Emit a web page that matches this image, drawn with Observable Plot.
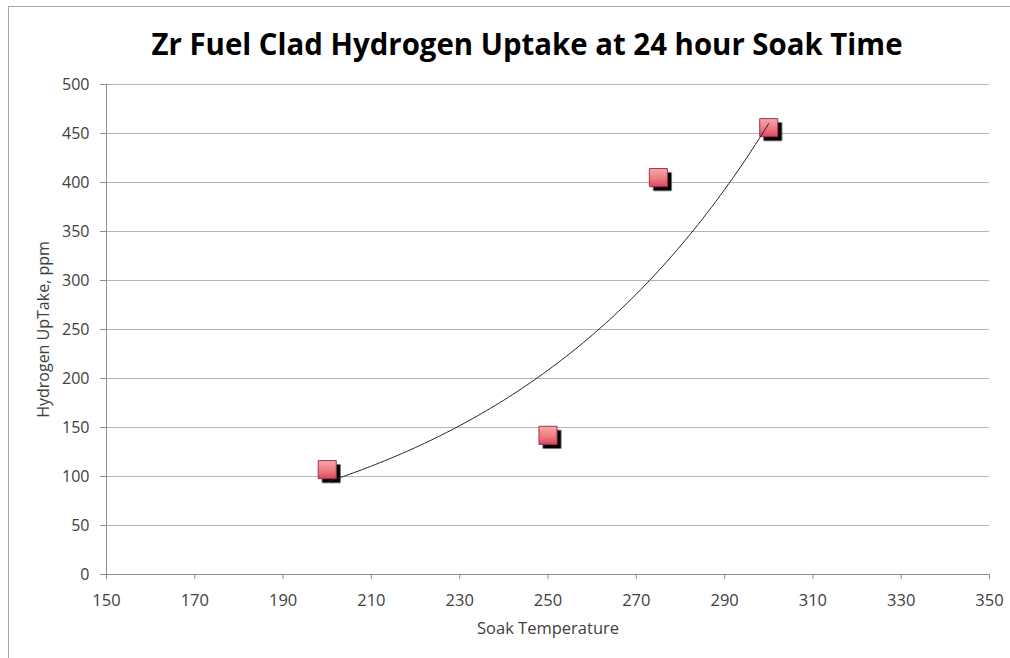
<!DOCTYPE html>
<html><head><meta charset="utf-8">
<script src="https://cdn.jsdelivr.net/npm/d3@7"></script>
<script src="https://cdn.jsdelivr.net/npm/@observablehq/plot@0.6"></script>
<style>
html,body{margin:0;padding:0;background:#fff;overflow:hidden;width:1010px;height:658px;position:relative}
#frame{position:absolute;left:8px;top:6px;width:1100px;height:800px;border:1px solid #a6a6a6;box-sizing:border-box}
#title{position:absolute;left:527px;top:22px;white-space:nowrap;font-family:"Open Sans";font-weight:700;font-size:31px;line-height:normal;color:#000;transform-origin:center center}
#chart{position:absolute;left:0;top:70px}
</style>
</head><body>
<div id="frame"></div>
<div id="title">Zr Fuel Clad Hydrogen Uptake at 24 hour Soak Time</div>
<div id="chart"></div>
<script>
const temps = [200, 250, 275, 300];
const uptake = [107, 142, 405, 456];
const xTicks = [150, 170, 190, 210, 230, 250, 270, 290, 310, 330, 350];
const yTicks = [0, 50, 100, 150, 200, 250, 300, 350, 400, 450, 500];
const xLabel = "Soak Temperature";
const yLabel = "Hydrogen UpTake, ppm";

const data = temps.map((t, i) => ({t, v: uptake[i]}));

// Exponential trendline (least squares on ln y), as in the spreadsheet
const lx = temps, ly = uptake.map(Math.log);
const mx = d3.mean(lx), my = d3.mean(ly);
const b = d3.sum(lx.map((x, i) => (x - mx) * (ly[i] - my))) / d3.sum(lx.map(x => (x - mx) ** 2));
const a = my - b * mx;
const trend = d3.range(d3.min(temps), d3.max(temps) + 0.5, 1).map(t => ({t, v: Math.exp(a + b * t)}));

const axisColor = "#8c8c8c";
const chart = Plot.plot({
  width: 1010, height: 588,
  marginTop: 14, marginBottom: 84, marginLeft: 106, marginRight: 21,
  style: {fontFamily: "Open Sans", fontSize: "16.5px", color: "#404040", background: "transparent"},
  x: {domain: [150, 350]},
  y: {domain: [0, 500]},
  marks: [
    Plot.gridY(yTicks, {stroke: "#b5b5b5", strokeOpacity: 1}),
    Plot.axisY({ticks: yTicks, tickSize: 6, tickPadding: 11, stroke: axisColor, label: yLabel, labelAnchor: "center", labelOffset: 69, labelArrow: "none", fontSize: "16px"}),
    Plot.axisX({ticks: xTicks, tickSize: 5, tickPadding: 15, stroke: axisColor, label: xLabel, labelAnchor: "center", labelOffset: 59, labelArrow: "none"}),
    Plot.ruleY([0], {stroke: axisColor}),
    Plot.ruleX([150], {stroke: axisColor}),
    Plot.dot(data, {x: "t", y: "v", symbol: "square", r: 10.4, fill: "#000", dx: 4, dy: 4}),
    Plot.dot(data, {x: "t", y: "v", symbol: "square", r: 10.2, fill: "url(#mk)", stroke: "#a3305a", strokeWidth: 1}),
    Plot.line(trend, {x: "t", y: "v", stroke: "#262626", strokeWidth: 1})
  ]
});
document.getElementById("chart").appendChild(chart);

const svg = d3.select(chart);
const defs = svg.insert("defs", ":first-child");
const g = defs.append("linearGradient").attr("id", "mk").attr("x1", 0).attr("y1", 0).attr("x2", 0).attr("y2", 1);
g.append("stop").attr("offset", "0%").attr("stop-color", "#f7a8a8");
g.append("stop").attr("offset", "55%").attr("stop-color", "#ec7c84");
g.append("stop").attr("offset", "100%").attr("stop-color", "#d9475c");
defs.append("filter").attr("id", "blur").attr("x", "-20%").attr("y", "-20%").attr("width", "140%").attr("height", "140%")
  .append("feGaussianBlur").attr("stdDeviation", 0.6);
const dots = svg.selectAll('g[aria-label="dot"]').nodes();
if (dots.length) dots[0].setAttribute("filter", "url(#blur)");

const title = document.getElementById("title");
const w = title.getBoundingClientRect().width;
title.style.transform = `translateX(-50%) scaleX(${751 / w})`;
</script>
</body></html>
